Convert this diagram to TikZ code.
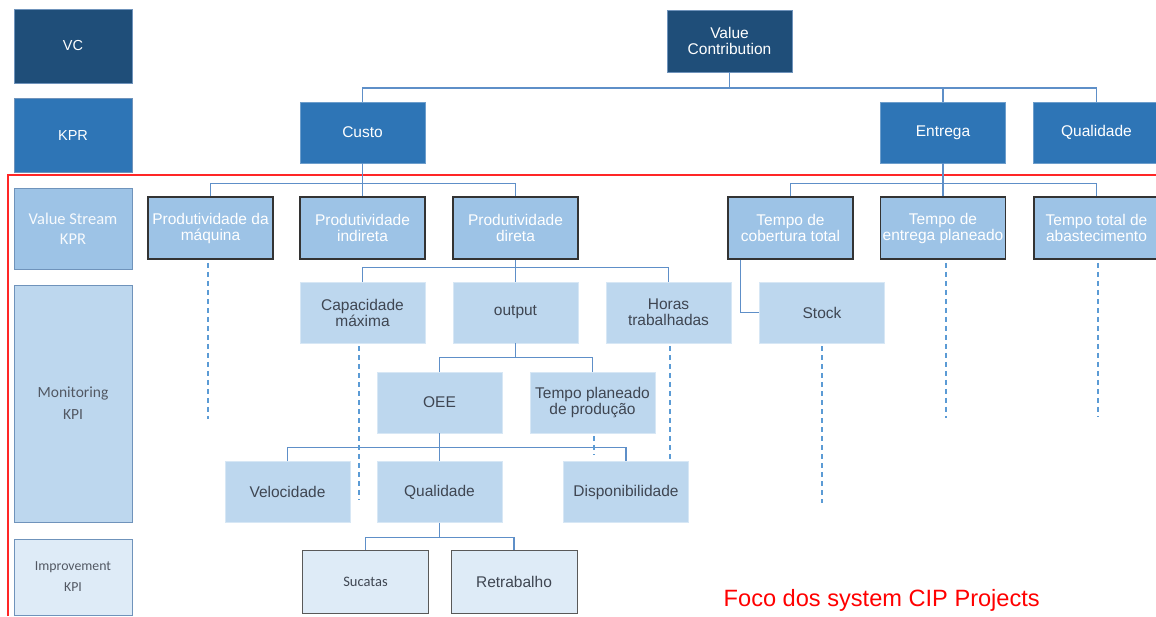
\documentclass[tikz,border=0pt]{standalone}
\usepackage{fontspec}
\setmainfont{Liberation Sans}
\newfontfamily\calibrifont{Carlito}
\usetikzlibrary{calc}
\definecolor{navy}{HTML}{1F4E79}
\definecolor{kprblue}{HTML}{2E75B6}
\definecolor{vsblue}{HTML}{9DC3E6}
\definecolor{monblue}{HTML}{BDD7EE}
\definecolor{impblue}{HTML}{DEEBF7}
\definecolor{linkblue}{HTML}{5E8FC8}
\definecolor{dashblue}{HTML}{5B9BD5}
\definecolor{txtgrey}{HTML}{3F4652}
\definecolor{edgeblue}{HTML}{6F93BB}
\begin{document}
\begin{tikzpicture}[x=1pt,y=-1pt,
  base/.style={rectangle, inner sep=0pt, align=center,
    font=\fontsize{15.5}{16}\selectfont},
  sidebox/.style={rectangle, inner sep=0pt, align=center,
    minimum width=118pt, draw=edgeblue, line width=0.8pt},
  vcbox/.style={base, fill=navy, draw=edgeblue, line width=0.6pt, text=white},
  kprbox/.style={base, fill=kprblue, draw=kprblue!70!white, line width=0.6pt, text=white},
  vsbox/.style={base, fill=vsblue, draw=black!80, line width=1.6pt, text=white,
    minimum width=125pt, minimum height=62pt},
  monbox/.style={base, fill=monblue, draw=monblue!60!white, line width=0.6pt, text=txtgrey,
    minimum width=125pt, minimum height=61pt},
  impbox/.style={base, fill=impblue, draw=black!65, line width=1pt, text=txtgrey,
    minimum width=126pt, minimum height=63pt},
  link/.style={draw=linkblue, line width=1.4pt},
  dashlink/.style={draw=dashblue, line width=1.4pt, dash pattern=on 5pt off 4pt},
  focus/.style={draw=red!85, line width=1.2pt}
]
\useasboundingbox (0,0) rectangle (1156,616);

% level legend on the left
\node[sidebox, fill=navy, minimum height=74pt, text=white,
  font=\fontsize{14.5}{16}\selectfont] (lvc) at (73,46) {VC};
\node[sidebox, fill=kprblue, minimum height=74pt, text=white,
  font=\fontsize{14.5}{16}\selectfont] (lkpr) at (73,135.5) {KPR};
\node[sidebox, fill=vsblue, minimum height=81pt, text=white!92!vsblue,
  font=\calibrifont\fontsize{16.5}{20}\selectfont] (lvs) at (73,228.5) {Value Stream\\KPR};
\node[sidebox, fill=monblue, minimum height=237pt, text=txtgrey!90,
  font=\calibrifont\fontsize{15.5}{22}\selectfont] (lmon) at (73,403.5) {Monitoring\\KPI};
\node[sidebox, fill=impblue, minimum height=76pt, text=txtgrey!90,
  font=\calibrifont\fontsize{13.8}{21}\selectfont] (limp) at (73,577) {Improvement\\KPI};

% focus frame
\coordinate (fa) at (8,616);
\coordinate (fb) at (8,175);
\coordinate (fc) at (1156,175);
\draw[focus] (fa) -- (fb) -- (fc);

% top levels
\node[vcbox, minimum width=125pt, minimum height=62pt] (vc) at (729.5,41) {Value\\Contribution};
\node[kprbox, minimum width=125pt, minimum height=61pt] (custo) at (362.5,132.5) {Custo};
\node[kprbox, minimum width=125pt, minimum height=61pt] (entrega) at (943,132.5) {Entrega};
\node[kprbox, minimum width=126pt, minimum height=61pt] (qualk) at (1096.5,132.5) {Qualidade};

% value stream KPR
\node[vsbox] (pm) at (210.5,228) {Produtividade da\\máquina};
\node[vsbox] (pi) at (362.5,228) {Produtividade\\indireta};
\node[vsbox] (pd) at (515.5,228) {Produtividade\\direta};
\node[vsbox] (tc) at (790.5,228) {Tempo de\\cobertura total};
\node[vsbox] (te) at (943,228) {Tempo de\\entrega planeado};
\node[vsbox] (ta) at (1096.5,228) {Tempo total de\\abastecimento};

% monitoring KPI
\node[monbox] (cap) at (362.5,312.5) {Capacidade\\máxima};
\node[monbox] (out) at (515.5,312.5) {output};
\node[monbox] (hor) at (668.5,312.5) {Horas\\trabalhadas};
\node[monbox] (stock) at (822,312.5) {Stock};
\node[monbox] (oee) at (439.5,402.5) {OEE};
\node[monbox] (tpp) at (592.5,402.5) {Tempo planeado\\de produção};
\node[monbox] (vel) at (287.5,492) {Velocidade};
\node[monbox] (qual) at (439.5,492) {Qualidade};
\node[monbox] (disp) at (626,492) {Disponibilidade};

% improvement KPI
\node[impbox, font=\calibrifont\fontsize{14.5}{16}\selectfont] (suc) at (365.5,582) {Sucatas};
\node[impbox] (ret) at (514,582) {Retrabalho};

% focus caption
\node[anchor=base west, inner sep=0pt, text=red, font=\fontsize{23.6}{26}\selectfont]
  (cap2) at (723.5,606) {Foco dos system CIP Projects};

% tree connectors
\coordinate (j0) at (729.5,88);
\draw[link] (vc.south) -- (j0);
\draw[link] (custo.north) |- (j0);
\draw[link] (qualk.north) |- (j0);
\draw[link] (entrega.north) -- (entrega.north |- j0);

\coordinate (j1) at (362.5,183.5);
\draw[link] (custo.south) -- (pi.north);
\draw[link] (pm.north) |- (j1);
\draw[link] (pd.north) |- (j1);

\coordinate (j2) at (943,183.5);
\draw[link] (entrega.south) -- (te.north);
\draw[link] (tc.north) |- (j2);
\draw[link] (ta.north) |- (j2);

\coordinate (j3) at (515.5,267.5);
\draw[link] (pd.south) -- (out.north);
\draw[link] (cap.north) |- (j3);
\draw[link] (hor.north) |- (j3);

\draw[link] ([xshift=13pt]tc.south west) |- (stock.west);

\coordinate (j4) at (515.5,357.5);
\draw[link] (out.south) -- (j4);
\draw[link] (oee.north) |- (j4);
\draw[link] (tpp.north) |- (j4);

\coordinate (j5) at (439.5,447.5);
\draw[link] (oee.south) -- (qual.north);
\draw[link] (vel.north) |- (j5);
\draw[link] (disp.north) |- (j5);

\coordinate (j6) at (439.5,537.5);
\draw[link] (qual.south) -- (j6);
\draw[link] (suc.north) |- (j6);
\draw[link] (ret.north) |- (j6);

% dashed continuations
\coordinate (d1) at (208,419);
\coordinate (d2) at (359,500);
\coordinate (d3) at (670,461);
\coordinate (d4) at (594,455);
\coordinate (d5) at (822,503);
\coordinate (d6) at (946,418);
\coordinate (d7) at (1098,417);
\draw[dashlink] (pm.south -| d1) ++(0,3) -- (d1);
\draw[dashlink] (cap.south -| d2) ++(0,3) -- (d2);
\draw[dashlink] (hor.south -| d3) ++(0,3) -- (d3);
\draw[dashlink] (tpp.south -| d4) ++(0,3) -- (d4);
\draw[dashlink] (stock.south -| d5) ++(0,3) -- (d5);
\draw[dashlink] (te.south -| d6) ++(0,3) -- (d6);
\draw[dashlink] (ta.south -| d7) ++(0,3) -- (d7);
\end{tikzpicture}
\end{document}
